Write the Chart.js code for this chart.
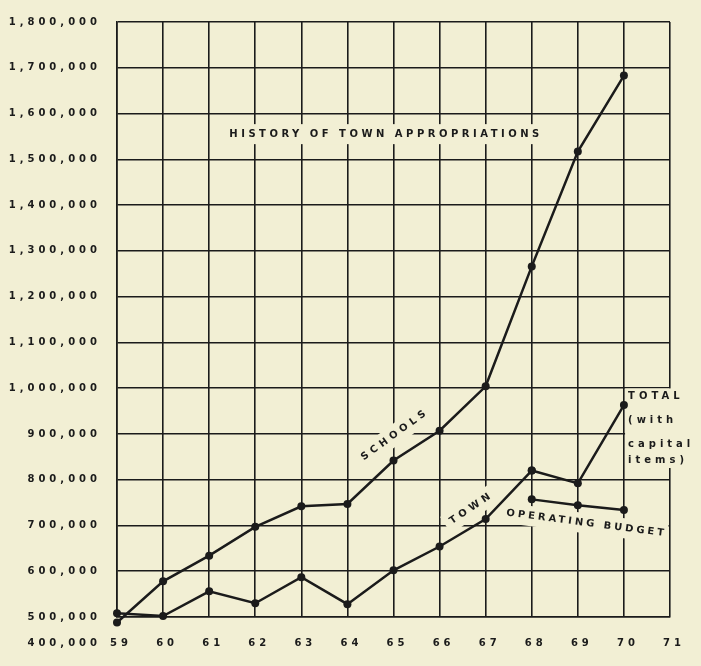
<!DOCTYPE html>
<html>
<head>
<meta charset="utf-8">
<script src="https://cdn.jsdelivr.net/npm/chart.js@4.4.1/dist/chart.umd.min.js"></script>
<style>
  html, body { margin: 0; padding: 0; background: #f2efd4; }
  #wrap { width: 701px; height: 666px; }
</style>
</head>
<body>
<div id="wrap"><canvas id="chart"></canvas></div>
<script>
const years = ['59', '60', '61', '62', '63', '64', '65', '66', '67', '68', '69', '70', '71'];
const schools = [488000, 578000, 634000, 697000, 742000, 747000, 842000, 907000, 1004000, 1266000, 1517000, 1683000, null];
const town = [508000, 502000, 556000, 530000, 587000, 528000, 602000, 654000, 714000, 820000, null, null, null];
const total = [null, null, null, null, null, null, null, null, null, 820000, 792000, 963000, null];
const operating = [null, null, null, null, null, null, null, null, null, 757000, 744000, 734000, null];
const bottomLabel = '400,000';

const ink = '#1b1b1b';
const paper = '#f2efd4';
const font = 'DejaVu Sans';

// text written on the grid: [text, x index, y value, angle in degrees, letter spacing]
const notes = [
    ['HISTORY OF TOWN APPROPRIATIONS', 5.8, 1555000, 0, 3.5],
    ['SCHOOLS', 6.0, 896000, -36, 4],
    ['TOWN', 7.66, 736000, -34, 4],
    ['OPERATING BUDGET', 10.16, 705000, 7.4, 3]
];
const totalNote = ['TOTAL', '(with', 'capital', 'items)'];
const totalNoteY = [982000, 930000, 878000, 843000];

const spacing = {
    id: 'spacing',
    beforeDraw(chart) {
        chart.ctx.letterSpacing = '4px';
    }
};

const labels = {
    id: 'labels',
    beforeDatasetsDraw(chart) {
        const { ctx, scales: { x, y } } = chart;
        ctx.save();
        ctx.textBaseline = 'middle';

        notes.forEach(([text, xi, yv, angle, ls]) => {
            ctx.save();
            ctx.letterSpacing = ls + 'px';
            ctx.translate(x.getPixelForValue(xi), y.getPixelForValue(yv));
            ctx.rotate(angle * Math.PI / 180);
            ctx.font = `bold 10px "${font}"`;
            const w = ctx.measureText(text).width;
            ctx.fillStyle = paper;
            ctx.fillRect(-w / 2 - 4, -10, w + 6, 20);
            ctx.fillStyle = ink;
            ctx.textAlign = 'center';
            ctx.fillText(text, ls / 2, 0);
            ctx.restore();
        });

        ctx.letterSpacing = '4px';
        ctx.font = `bold 10px "${font}"`;
        const left = x.getPixelForValue(11.09);
        ctx.fillStyle = paper;
        ctx.fillRect(left - 3, y.getPixelForValue(totalNoteY[0]) - 8, 68, y.getPixelForValue(totalNoteY[3]) - y.getPixelForValue(totalNoteY[0]) + 16);
        ctx.fillStyle = ink;
        ctx.textAlign = 'left';
        totalNote.forEach((t, i) => ctx.fillText(t, left, y.getPixelForValue(totalNoteY[i])));

        // the extra value label sitting on the row of years
        ctx.textAlign = 'right';
        ctx.fillText(bottomLabel, y.right - 16, x.top + 26);
        ctx.restore();
    },
    afterDatasetsDraw(chart) {
        // points just under the bottom gridline are skipped by chart.js, draw them anyway
        const area = chart.chartArea;
        const all = { left: 0, top: 0, right: chart.width, bottom: chart.height };
        chart.data.datasets.forEach((ds, i) => {
            chart.getDatasetMeta(i).data.forEach(pt => {
                if (!pt.skip && (pt.y > area.bottom || pt.y < area.top)) pt.draw(chart.ctx, all);
            });
        });
    }
};

function line(data) {
    return {
        data: data,
        borderColor: ink,
        backgroundColor: ink,
        borderWidth: 2.5,
        pointRadius: 4,
        pointBackgroundColor: ink,
        pointBorderWidth: 0,
        tension: 0,
        spanGaps: false,
        clip: false
    };
}

new Chart(document.getElementById('chart'), {
    type: 'line',
    data: {
        labels: years,
        datasets: [line(schools), line(town), line(total), line(operating)]
    },
    options: {
        responsive: true,
        maintainAspectRatio: false,
        animation: false,
        layout: { padding: { top: 16, right: 31, bottom: 0, left: 0 } },
        plugins: { legend: { display: false }, tooltip: { enabled: false } },
        scales: {
            x: {
                offset: false,
                grid: { color: ink, lineWidth: 1.6, drawTicks: false, offset: false },
                border: { color: ink, width: 1.6 },
                ticks: { color: ink, padding: 20, labelOffset: 4, maxRotation: 0, autoSkip: false, font: { family: font, weight: 'bold', size: 10 } },
                afterFit: s => { s.height = 49; }
            },
            y: {
                min: 500000,
                max: 1800000,
                grid: { color: ink, lineWidth: 1.6, drawTicks: false },
                border: { color: ink, width: 1.6 },
                ticks: {
                    stepSize: 100000,
                    color: ink,
                    padding: 16,
                    font: { family: font, weight: 'bold', size: 10 },
                    callback: v => v.toLocaleString('en-US')
                },
                afterFit: s => { s.width = 117; }
            }
        }
    },
    plugins: [spacing, labels]
});
</script>
</body>
</html>
